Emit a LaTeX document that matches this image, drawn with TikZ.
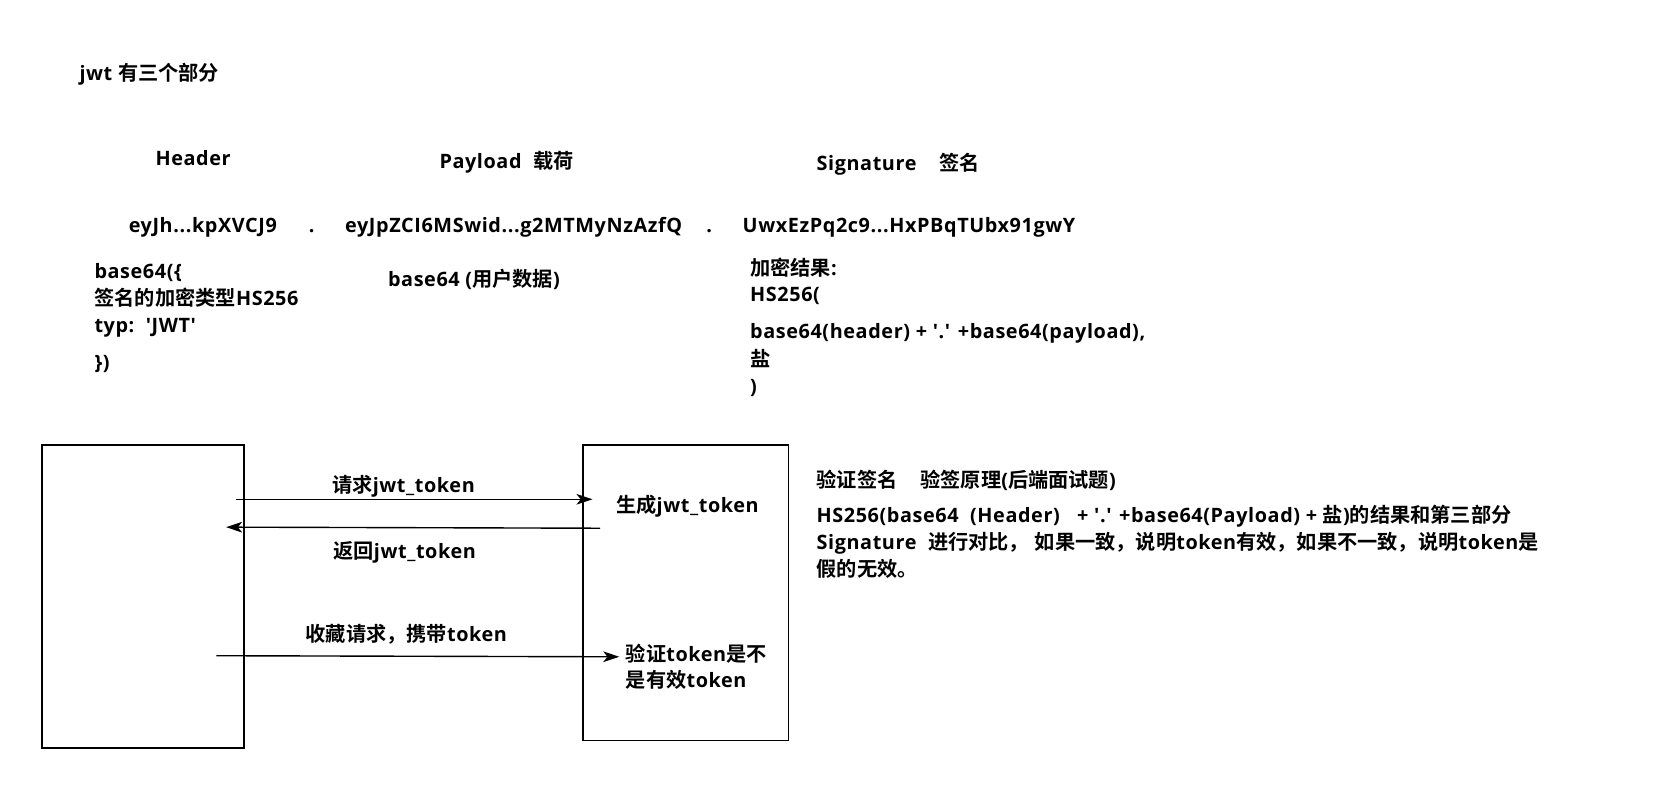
\documentclass[tikz,border=0pt]{standalone}
\usepackage{fontspec}
\newfontfamily\latfont{Open Sans}[BoldFont={Open Sans Bold},LetterSpace=3]
\newfontfamily\cjkfont{Noto Sans CJK SC}[BoldFont={Noto Sans CJK SC Bold},Scale=1.02]
\XeTeXinterchartokenstate=1
\newXeTeXintercharclass\cjkclass
\newcount\cjkcc
\cjkcc="4E00 \loop \XeTeXcharclass\cjkcc=\cjkclass \advance\cjkcc 1 \ifnum\cjkcc<"A000 \repeat
\cjkcc="3000 \loop \XeTeXcharclass\cjkcc=\cjkclass \advance\cjkcc 1 \ifnum\cjkcc<"3040 \repeat
\cjkcc="FF00 \loop \XeTeXcharclass\cjkcc=\cjkclass \advance\cjkcc 1 \ifnum\cjkcc<"FFF0 \repeat
\XeTeXinterchartoks 0 \cjkclass = {\cjkfont}
\XeTeXinterchartoks 4095 \cjkclass = {\cjkfont}
\XeTeXinterchartoks \cjkclass 0 = {\latfont}
\XeTeXinterchartoks \cjkclass 4095 = {\latfont}
\usetikzlibrary{arrows.meta}
\begin{document}
\begin{tikzpicture}[x=1pt,y=-1pt,
  txt/.style={anchor=west,inner sep=0pt,text height=13pt,text depth=4pt,yshift=-2.5pt,font=\fontsize{18.5}{22}\selectfont\latfont\bfseries},
  boxshape/.style={draw,line width=1.6pt},
  conn/.style={line width=1.3pt,-{Stealth[length=15pt,width=10pt,inset=4pt]}}]
\useasboundingbox (0,0) rectangle (1568,739);
% title
\node[txt] (title) at (74,68) {jwt 有三个部分};
% headings
\node[txt] (hdr) at (145,147) {Header};
\node[txt] (pld) at (410,150) {Payload\ \ 载荷};
\node[txt] (sig) at (762,152) {Signature\ \ \ \ 签名};
% token row
\node[txt] (tk1) at (120,210) {eyJh...kpXVCJ9};
\node[txt] (dot1) at (288,210) {.};
\node[txt] (tk2) at (322,210) {eyJpZCI6MSwid...g2MTMyNzAzfQ};
\node[txt] (dot2) at (659,210) {.};
\node[txt] (tk3) at (693,210) {UwxEzPq2c9...HxPBqTUbx91gwY};
% header description
\node[txt] (h1) at (88,253) {base64(\{};
\node[txt] (h2) at (88,278) {签名的加密类型HS256};
\node[txt] (h3) at (88,303) {typ:\ \ 'JWT'};
\node[txt] (h4) at (88,338) {\})};
% payload description
\node[txt] (p1) at (362,260) {base64 (用户数据)};
% signature description
\node[txt] (s1) at (700,250) {加密结果:};
\node[txt] (s2) at (700,274) {HS256(};
\node[txt] (s3) at (700,309) {base64(header) + '.' +base64(payload),};
\node[txt] (s4) at (700,335) {盐};
\node[txt] (s5) at (700,360) {)};
% boxes
\node[boxshape,minimum width=189pt,minimum height=283pt,inner sep=0pt] (client) at (133.5,556.5) {};
\node[boxshape,minimum width=192pt,minimum height=276pt,inner sep=0pt] (server) at (640,553) {};
% arrows
\coordinate (a1s) at (220,466);
\coordinate (a1e) at (553,466);
\coordinate (a2s) at (560,493);
\coordinate (a2e) at (211,492);
\coordinate (a3s) at (202,612);
\coordinate (a3e) at (578,613);
\draw[conn] (a1s) -- (a1e);
\draw[conn] (a2s) -- (a2e);
\draw[conn] (a3s) -- (a3e);
\node[txt] (l1) at (310,453) {请求jwt\_token};
\node[txt] (l2) at (311,514) {返回jwt\_token};
\node[txt] (l3) at (285,592) {收藏请求，携带token};
\node[txt] (g1) at (575,471) {生成jwt\_token};
\node[txt] (v1) at (584,610) {验证token是不};
\node[txt] (v2) at (584,635) {是有效token};
% verification text
\node[txt] (r1) at (762,448) {验证签名\ \ \ \ 验签原理(后端面试题)};
\node[txt] (r2) at (762,481) {HS256(base64\ \ (Header)\ \ \ + '.' +base64(Payload) + 盐)的结果和第三部分};
\node[txt] (r3) at (762,506) {Signature\ \ 进行对比，\ 如果一致，说明token有效，如果不一致，说明token是};
\node[txt] (r4) at (762,531) {假的无效。};
\end{tikzpicture}
\end{document}
